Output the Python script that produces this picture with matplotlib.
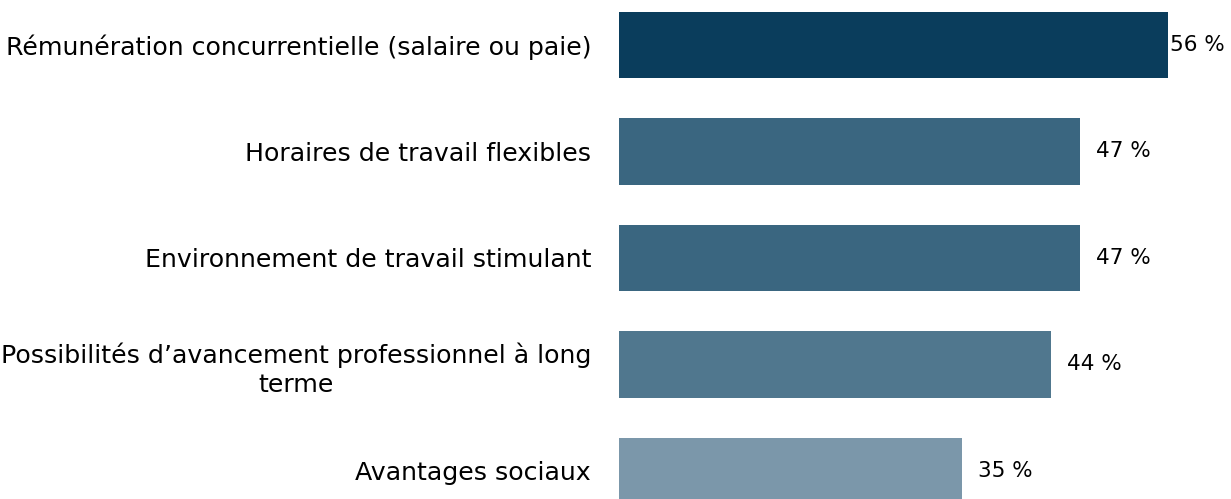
import matplotlib.pyplot as plt
import matplotlib as mpl

labels = [
    "Rémunération concurrentielle (salaire ou paie)",
    "Horaires de travail flexibles",
    "Environnement de travail stimulant",
    "Possibilités d\u2019avancement professionnel à long\nterme",
    "Avantages sociaux",
]
values = [56, 47, 47, 44, 35]
colors = ["#0a3d5c", "#3a6680", "#3a6680", "#50778e", "#7b97aa"]

mpl.rcParams["font.family"] = ["DejaVu Sans"]

W, H = 1231, 499
fig = plt.figure(figsize=(W / 100, H / 100), dpi=100)
ax = fig.add_axes([619 / W, 0, 1 - 619 / W, 1])

ypos = list(range(len(values)))
ax.barh(ypos, values, height=0.62, color=colors)
ax.set_xlim(0, 62.4)
ax.set_ylim(4.263, -0.4225)

ax.set_yticks(ypos)
ax.set_yticklabels(labels, fontsize=18.2)
for t in ax.get_yticklabels():
    t.set_multialignment("center")
    t.set_linespacing(1.3)
ax.tick_params(axis="y", length=0, pad=20)
ax.set_xticks([])
for s in ax.spines.values():
    s.set_visible(False)

texts = []
for y, v in zip(ypos, values):
    texts.append(ax.annotate(f"{v} %", (v, y), xytext=(11.5, 0), textcoords="offset points",
                             va="center", ha="left", fontsize=15.5))

# keep the value labels inside the figure, as the reference does for the longest bar
fig.canvas.draw()
r = fig.canvas.get_renderer()
for t in texts:
    bb = t.get_window_extent(r)
    if bb.x1 > W - 6:
        ox, oy = t.xyann
        t.xyann = (ox - (bb.x1 - (W - 6)) * 72 / 100, oy)

fig.savefig("out.png", dpi=100)
